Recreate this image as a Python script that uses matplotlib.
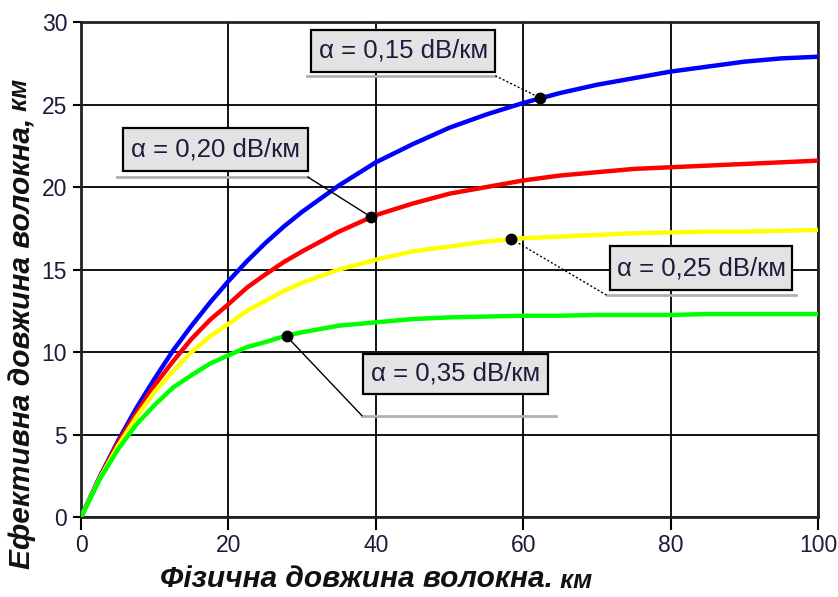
import numpy as np
import matplotlib
matplotlib.use('Agg')
import matplotlib.pyplot as plt
from matplotlib.patches import Rectangle

plt.rcParams['font.family'] = ['Liberation Sans', 'DejaVu Sans']

# physical fibre length, km
length_km = [0, 2.5, 5, 7.5, 10, 12.5, 15, 17.5, 20, 22.5, 25, 27.5, 30,
             35, 40, 45, 50, 55, 60, 65, 70, 75, 80, 85, 90, 95, 100]

# effective length, km, for each attenuation
leff_015 = [0, 2.4, 4.6, 6.6, 8.4, 10.1, 11.6, 13.0, 14.3, 15.5, 16.6, 17.6,
            18.5, 20.1, 21.5, 22.6, 23.6, 24.4, 25.1, 25.7, 26.2, 26.6,
            27.0, 27.3, 27.6, 27.8, 27.9]
leff_020 = [0, 2.35, 4.5, 6.3, 8.0, 9.45, 10.8, 11.95, 12.9, 13.9, 14.7, 15.45,
            16.1, 17.3, 18.3, 19.0, 19.6, 20.0, 20.4, 20.7, 20.9, 21.1,
            21.2, 21.3, 21.4, 21.5, 21.6]
leff_025 = [0, 2.3, 4.3, 6.05, 7.6, 8.85, 10.0, 10.95, 11.7, 12.5, 13.1, 13.7,
            14.2, 15.0, 15.6, 16.1, 16.4, 16.7, 16.9, 17.0, 17.1, 17.2,
            17.25, 17.3, 17.3, 17.35, 17.4]
leff_035 = [0, 2.25, 4.1, 5.6, 6.8, 7.85, 8.6, 9.3, 9.8, 10.3, 10.6, 10.95,
            11.2, 11.6, 11.8, 12.0, 12.1, 12.15, 12.2, 12.2, 12.25, 12.25,
            12.25, 12.3, 12.3, 12.3, 12.3]

labels = ['α = 0,15 dB/км', 'α = 0,20 dB/км', 'α = 0,25 dB/км', 'α = 0,35 dB/км']
colors = ['#0000ff', '#ff0000', '#ffff00', '#00ff00']

# points picked out on each curve
dot_x = [62.3, 39.3, 58.4, 27.9]
dot_y = [25.4, 18.2, 16.85, 10.95]

x_ticks = [0, 20, 40, 60, 80, 100]
y_ticks = [0, 5, 10, 15, 20, 25, 30]

# label boxes: (x0, x1, y_bottom, y_top), underline (x0, x1, y), leader side, style
boxes = [(31.2, 56.2, 27.0, 29.5), (5.7, 30.8, 21.0, 23.55),
         (71.8, 96.5, 13.75, 16.4), (38.3, 63.3, 7.45, 9.9)]
underlines = [(30.7, 56.2, 26.75), (4.9, 30.8, 20.6),
              (71.3, 97.0, 13.45), (38.1, 64.4, 6.15)]
leader_from_right = [True, True, False, False]
leader_styles = [(0, (1.5, 1.5)), '-', (0, (1.5, 1.5)), '-']

fig = plt.figure(figsize=(8.38, 5.97), dpi=100)
ax = fig.add_axes([0.0967, 0.134, 0.8795, 0.829])

ax.set_xlim(0, 100)
ax.set_ylim(0, 30)
ax.set_xticks(x_ticks)
ax.set_yticks(y_ticks)
ax.grid(True, color='black', linewidth=1.3)
ax.set_axisbelow(True)
for sp in ax.spines.values():
    sp.set_linewidth(2.0)
    sp.set_color('#222222')
ax.tick_params(axis='x', length=9, width=1.5, pad=3, labelsize=16.5,
               labelcolor='#1c1c3c')
ax.tick_params(axis='y', length=6, width=1.5, pad=4, labelsize=16.5,
               labelcolor='#1c1c3c')

series = [leff_015, leff_020, leff_025, leff_035]
for ys, c in zip(series, colors):
    ax.plot(length_km, ys, color=c, linewidth=3.2, solid_capstyle='round',
            solid_joinstyle='round', zorder=3)

ax.plot(dot_x, dot_y, 'o', color='black', markersize=7.5, zorder=6)

for i in range(4):
    bx0, bx1, by0, by1 = boxes[i]
    ux0, ux1, uy = underlines[i]
    ax.plot([ux0, ux1], [uy, uy], color='#b0b0b0', linewidth=2.0, zorder=4)
    lx = ux1 if leader_from_right[i] else ux0
    ax.plot([lx, dot_x[i]], [uy, dot_y[i]], color='black', linewidth=1.0,
            linestyle=leader_styles[i], zorder=5)
    ax.add_patch(Rectangle((bx0, by0), bx1 - bx0, by1 - by0,
                           facecolor='#e3e3e3', edgecolor='black',
                           linewidth=1.6, zorder=7))
    ax.text((bx0 + bx1) / 2, (by0 + by1) / 2, labels[i], ha='center',
            va='center', fontsize=18.5, color='#1c1c3c', zorder=8)

# axis titles, with a smaller unit after the main text
xl = fig.text(0.191, 0.016, 'Фізична довжина волокна.', fontsize=21.5,
              fontweight='bold', style='italic', color='#111111')
ax.annotate(' км', xy=(1, 0), xycoords=xl, va='bottom', fontsize=18.5,
            fontweight='bold', style='italic', color='#111111')
yl = fig.text(0.010, 0.057, 'Ефективна довжина волокна,', fontsize=21.5,
              fontweight='bold', style='italic', rotation=90,
              color='#111111')
ax.annotate(' км', xy=(0, 1), xycoords=yl, ha='left', va='bottom',
            rotation=90, fontsize=18.5, fontweight='bold', style='italic',
            color='#111111')

fig.savefig('out.png', dpi=100)
